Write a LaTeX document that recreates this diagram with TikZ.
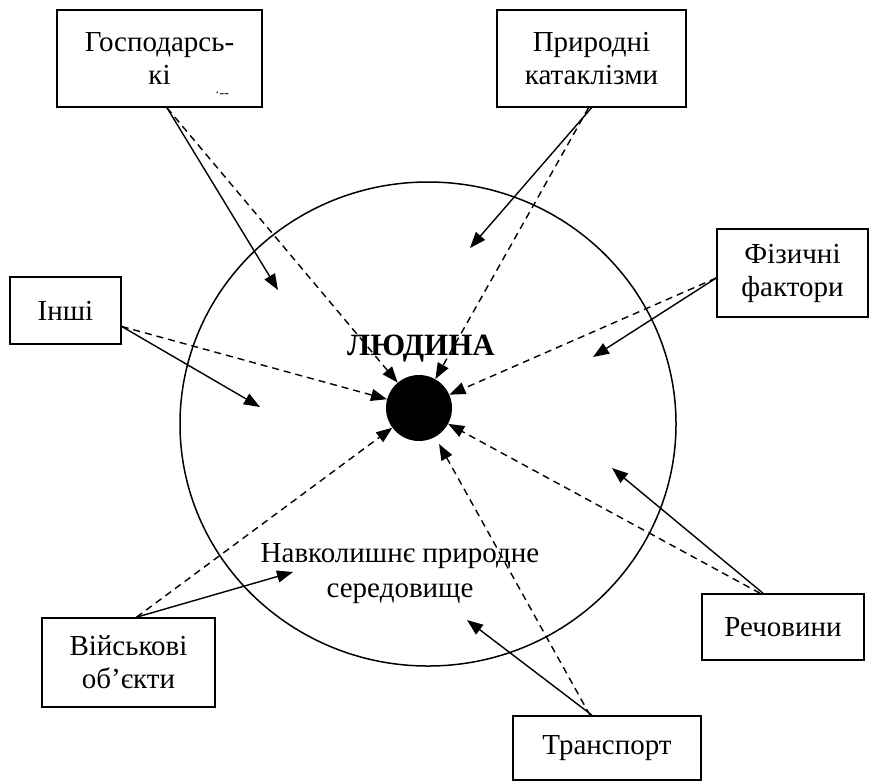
\documentclass[tikz,border=0pt]{standalone}
\usepackage{fontspec}
\setmainfont{Liberation Serif}
\usetikzlibrary{arrows.meta}
\begin{document}
\begin{tikzpicture}[x=1pt,y=-1pt,
  box/.style={draw, line width=1.6pt, inner sep=0pt, align=center, font=\fontsize{29}{33}\selectfont},
  arr/.style={-{Triangle[length=16pt,width=12pt]}, line width=1.4pt},
  dsh/.style={arr, dash pattern=on 7pt off 5pt},
  lbl/.style={inner sep=0pt, align=center, font=\fontsize{29}{35}\selectfont}]
\useasboundingbox (0,0) rectangle (869,780);
\clip (0,0) rectangle (869,780);
\fill[white] (0,0) rectangle (869,780);
% environment ellipse
\draw[line width=1.5pt] (428,424) ellipse [x radius=248pt, y radius=242pt];
% boxes
\node[box, minimum width=205pt, minimum height=97pt] (G) at (159.5,58.5) {Господарсь-\\кі};
\node[inner sep=0pt, font=\fontsize{14}{14}\selectfont] (Gdots) at (222,95) {·‐‐};
\node[box, minimum width=189pt, minimum height=97pt] (P) at (591.5,58.5) {Природні\\катаклізми};
\node[box, minimum width=111pt, minimum height=67pt] (I) at (65.5,310.5) {Інші};
\node[box, minimum width=151pt, minimum height=88pt] (F) at (792.5,273) {Фізичні\\фактори};
\node[box, minimum width=162pt, minimum height=66pt] (R) at (783,627) {Речовини};
\node[box, minimum width=173pt, minimum height=89pt] (V) at (128.5,662.5) {Військові\\об’єкти};
\node[box, minimum width=188pt, minimum height=64pt] (T) at (607,748) {Транспорт};
% centre
\node[circle, fill=black, minimum size=66pt, inner sep=0pt] (dot) at (419,408) {};
\node[lbl, font=\bfseries\fontsize{31}{34}\selectfont] (man) at (421,349) {ЛЮДИНА};
\node[lbl] (env) at (400,574) {Навколишнє природне\\середовище};
% targets of solid arrows
\coordinate (gt) at (278,290);
\coordinate (pt) at (470,248);
\coordinate (it) at (260,407);
\coordinate (ft) at (593,357);
\coordinate (rt) at (612,468);
\coordinate (tt) at (467,620);
\coordinate (vt) at (293,572);
% solid arrows
\draw[arr] ([xshift=7.5pt]G.south) -- (gt);
\draw[arr] (P.south) -- (pt);
\draw[arr] ([yshift=-16pt]I.east) -- (it);
\draw[arr] ([yshift=-5pt]F.west) -- (ft);
\draw[arr] ([xshift=-20pt]R.north) -- (rt);
\draw[arr] ([xshift=-15pt]T.north) -- (tt);
\draw[arr] ([xshift=8pt]V.north) -- (vt);
% dashed arrows
\draw[dsh] ([xshift=7.5pt]G.south) -- (dot);
\draw[dsh] ([xshift=-3pt]P.south) -- (dot);
\draw[dsh] ([yshift=-16pt]I.east) -- (dot);
\draw[dsh] ([yshift=-5pt]F.west) -- (dot);
\draw[dsh] ([xshift=-23pt]R.north) -- (dot);
\draw[dsh, shorten >=8pt] ([xshift=-17pt]T.north) -- (dot);
\draw[dsh] ([xshift=8pt]V.north) -- (dot);
\end{tikzpicture}
\end{document}
